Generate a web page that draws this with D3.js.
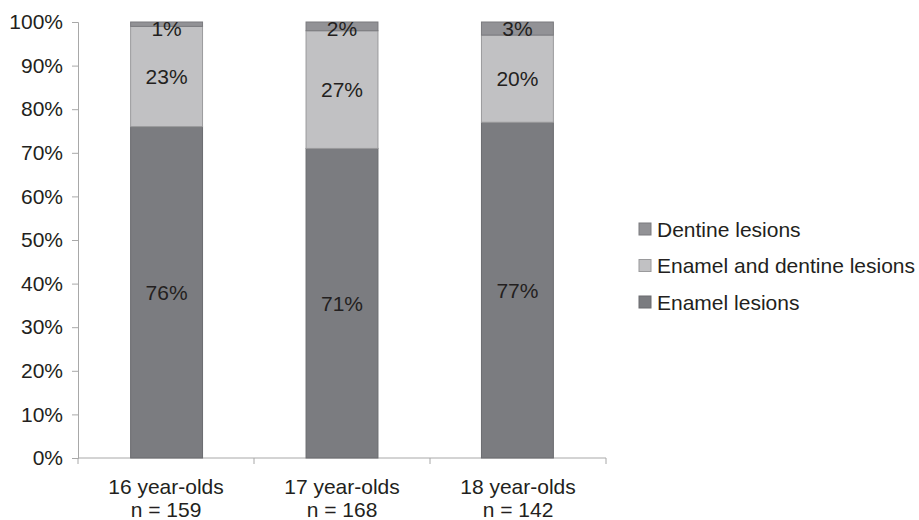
<!DOCTYPE html>
<html>
<head>
<script src="https://d3js.org/d3.v7.min.js"></script>
<style>
  body { margin: 0; background: #fff; }
  text { font-family: "Liberation Sans", Arial, sans-serif; fill: #231f20; }
</style>
</head>
<body>
<svg width="919" height="520"></svg>
<script>
  let groups = ["16 year-olds", "17 year-olds", "18 year-olds"],
    sizes = ["n = 159", "n = 168", "n = 142"],
    series = ["Enamel lesions", "Enamel and dentine lesions", "Dentine lesions"],
    enamel = [76, 71, 77],
    both = [23, 27, 20],
    dentine = [1, 2, 3],
    yTicks = [0, 10, 20, 30, 40, 50, 60, 70, 80, 90, 100];

  let colors = { "Enamel lesions": "#7b7c80", "Enamel and dentine lesions": "#c1c1c3", "Dentine lesions": "#929296" },
    strokes = { "Enamel lesions": "#6a6b6f", "Enamel and dentine lesions": "#9a9a9c", "Dentine lesions": "#7a7a7e" };

  let margins = { left: 78, right: 313, top: 22, bottom: 62 },
    width = 919, height = 520,
    fs = 21;

  let rows = groups.map((g, i) => ({ group: g, "Enamel lesions": enamel[i], "Enamel and dentine lesions": both[i], "Dentine lesions": dentine[i] }));
  let stacked = d3.stack().keys(series)(rows);

  let x = d3.scaleBand().domain(groups).range([margins.left, width - margins.right]).paddingInner(0.59).paddingOuter(0.3);
  let xAxisBand = d3.scaleBand().domain(groups).range([margins.left, width - margins.right]);
  let y = d3.scaleLinear().domain([0, 100]).range([height - margins.bottom, margins.top]);

  let svg = d3.select("svg");

  // axes
  let ya = svg.append("g").attr("transform", `translate(${margins.left},0)`)
    .call(d3.axisLeft(y).tickValues(yTicks).tickFormat(d => d + "%").tickSize(6).tickPadding(9));
  ya.select(".domain").attr("stroke", "#a8a8a8");
  ya.selectAll("line").attr("stroke", "#a8a8a8");
  ya.selectAll("text").attr("font-size", fs).attr("fill", "#231f20")
    .style("font-family", "Liberation Sans, Arial, sans-serif");

  let xa = svg.append("g").attr("transform", `translate(0,${y(0)})`);
  xa.append("line").attr("x1", margins.left).attr("x2", width - margins.right)
    .attr("stroke", "#a8a8a8");
  xa.selectAll("line.tick")
    .data([...groups.map(g => xAxisBand(g)), width - margins.right]).enter()
    .append("line").attr("class", "tick")
    .attr("x1", d => d).attr("x2", d => d).attr("y1", 0).attr("y2", 6)
    .attr("stroke", "#a8a8a8");

  // bars
  svg.append("g").selectAll("g")
    .data(stacked).enter()
    .append("g")
    .selectAll("rect")
    .data(s => s.map(d => ({ key: s.key, d }))).enter()
    .append("rect")
    .attr("x", v => x(v.d.data.group))
    .attr("width", x.bandwidth())
    .attr("y", v => y(v.d[1]))
    .attr("height", v => y(v.d[0]) - y(v.d[1]))
    .attr("fill", v => colors[v.key])
    .attr("stroke", v => strokes[v.key])
    .attr("stroke-width", 1);

  // segment labels
  svg.append("g").selectAll("g")
    .data(stacked).enter()
    .append("g")
    .selectAll("text")
    .data(s => s.map(d => ({ key: s.key, d }))).enter()
    .append("text")
    .attr("x", v => x(v.d.data.group) + x.bandwidth() / 2)
    .attr("y", v => Math.max(y((v.d[0] + v.d[1]) / 2), y(100) + 6))
    .attr("dy", "0.36em")
    .attr("text-anchor", "middle")
    .attr("font-size", fs)
    .text(v => (v.d[1] - v.d[0]) + "%");

  // category labels
  let cl = svg.append("g");
  cl.selectAll("text.g").data(groups).enter().append("text")
    .attr("x", d => xAxisBand(d) + xAxisBand.bandwidth() / 2)
    .attr("y", 494)
    .attr("text-anchor", "middle").attr("font-size", fs)
    .text(d => d);
  cl.selectAll("text.n").data(groups).enter().append("text")
    .attr("x", d => xAxisBand(d) + xAxisBand.bandwidth() / 2)
    .attr("y", 517)
    .attr("text-anchor", "middle").attr("font-size", fs)
    .text((d, i) => sizes[i]);

  // legend
  let legendOrder = series.slice().reverse();
  let lg = svg.append("g").attr("transform", "translate(639,0)");
  let items = lg.selectAll("g").data(legendOrder).enter().append("g")
    .attr("transform", (d, i) => `translate(0,${229 + i * 36.5})`);
  items.append("rect").attr("x", 0).attr("y", -6).attr("width", 12).attr("height", 12)
    .attr("fill", d => colors[d]).attr("stroke", d => strokes[d]);
  items.append("text").attr("x", 18).attr("y", 0).attr("dy", "0.36em")
    .attr("font-size", fs).text(d => d);
</script>
</body>
</html>
